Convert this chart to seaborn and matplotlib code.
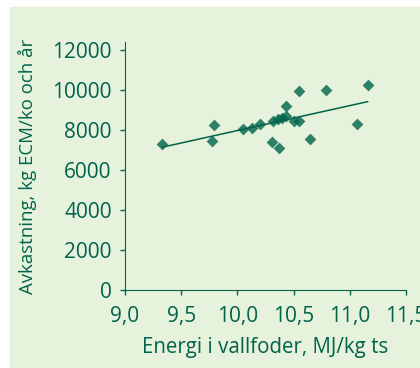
import matplotlib
matplotlib.use("Agg")
import matplotlib.pyplot as plt
import seaborn as sns
import pandas as pd

# Energi i vallfoder (MJ/kg ts) och avkastning (kg ECM/ko och år)
energi = [9.33, 9.77, 9.79, 10.05, 10.13, 10.20, 10.31, 10.32, 10.36, 10.37,
          10.40, 10.43, 10.43, 10.50, 10.55, 10.55, 10.65, 10.79, 11.06, 11.16]
avkastning = [7290, 7450, 8230, 8070, 8120, 8280, 7420, 8450, 8530, 7080,
              8620, 8700, 9200, 8450, 8450, 9950, 7550, 10000, 8280, 10250]

xticks = [9.0, 9.5, 10.0, 10.5, 11.0, 11.5]
xticklabels = ["9,0", "9,5", "10,0", "10,5", "11,0", "11,5"]
yticks = [0, 2000, 4000, 6000, 8000, 10000, 12000]

df = pd.DataFrame({"energi": energi, "avkastning": avkastning})

green = "#00634a"
bg = "#e6f2dc"

sns.set_style("ticks")
plt.rcParams["font.family"] = ["Open Sans", "DejaVu Sans"]

fig = plt.figure(figsize=(4.2, 3.68), dpi=100, facecolor="white")
fig.patches.append(plt.Rectangle((10 / 420, 0), 1, 1 - 7 / 368,
                                 transform=fig.transFigure, color=bg, zorder=-1))
ax = fig.add_axes([125 / 420, 1 - 290 / 368, 281 / 420, 248 / 368])
ax.set_facecolor("none")

sns.regplot(data=df, x="energi", y="avkastning", ax=ax, ci=None, truncate=True,
            marker="D", scatter_kws={"s": 36, "color": green, "linewidths": 0},
            line_kws={"color": green, "lw": 1.1})

ax.set_xlim(9.0, 11.5)
ax.set_ylim(0, 12400)
ax.set_xticks(xticks)
ax.set_xticklabels(xticklabels)
ax.set_yticks(yticks)
ax.set_xlabel("Energi i vallfoder, MJ/kg ts", color=green, fontsize=14.8, labelpad=7)
ax.set_ylabel("Avkastning, kg ECM/ko och år", color=green, fontsize=13.4, labelpad=11)
ax.tick_params(colors=green, labelcolor=green, labelsize=15, length=3.5, width=1)
ax.tick_params(axis="x", pad=8)
ax.tick_params(axis="y", pad=6)
for side in ["top", "right"]:
    ax.spines[side].set_visible(False)
for side in ["left", "bottom"]:
    ax.spines[side].set_color(green)

fig.savefig("out.png", dpi=100, facecolor="white")
